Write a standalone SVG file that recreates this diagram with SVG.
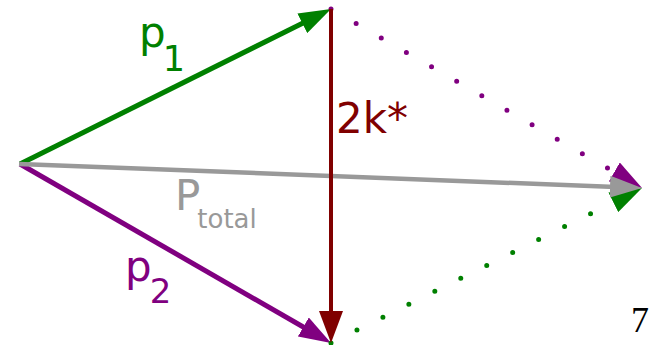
<svg xmlns="http://www.w3.org/2000/svg" width="650" height="345" viewBox="0 0 650 345">
  <style>
    .lbl { font-family: "DejaVu Sans", "Liberation Sans", sans-serif; }
    .green { stroke: #008000; fill: none; }
    .purple { stroke: #800080; fill: none; }
    .gray { stroke: #999999; fill: none; }
    .red { stroke: #800000; fill: none; }
    .dots { stroke-width: 5; stroke-linecap: round; stroke-dasharray: 0 29; }
  </style>
  <defs>
    <marker id="ahGreen" markerUnits="userSpaceOnUse" markerWidth="32" markerHeight="22" viewBox="0 0 32 22" refX="12" refY="11" orient="auto">
      <path d="M0,0 L32,11 L0,22 z" fill="#008000"/>
    </marker>
    <marker id="ahPurple" markerUnits="userSpaceOnUse" markerWidth="32" markerHeight="22" viewBox="0 0 32 22" refX="12" refY="11" orient="auto">
      <path d="M0,0 L32,11 L0,22 z" fill="#800080"/>
    </marker>
    <marker id="ahGray" markerUnits="userSpaceOnUse" markerWidth="32" markerHeight="22" viewBox="0 0 32 22" refX="12" refY="11" orient="auto">
      <path d="M0,0 L32,11 L0,22 z" fill="#999999"/>
    </marker>
    <marker id="ahRed" markerUnits="userSpaceOnUse" markerWidth="32" markerHeight="24" viewBox="0 0 32 24" refX="12" refY="12" orient="auto">
      <path d="M0,0 L32,12 L0,24 z" fill="#800000"/>
    </marker>
  </defs>
  <rect width="650" height="345" fill="#ffffff"/>
  <g id="connectors">
    <line id="p1" class="green" stroke-width="5" x1="20" y1="164" x2="313.1" y2="17.9" marker-end="url(#ahGreen)"/>
    <line id="p2" class="purple" stroke-width="5" x1="20" y1="164" x2="313.7" y2="333" marker-end="url(#ahPurple)"/>
    <line id="p2-shift" class="purple dots" x1="331" y1="9" x2="624.7" y2="178" marker-end="url(#ahPurple)"/>
    <line id="p1-shift" class="green dots" x1="331" y1="343" x2="624.1" y2="196.9" marker-end="url(#ahGreen)"/>
    <line id="ptotal" class="gray" stroke-width="4.5" x1="19" y1="164" x2="622" y2="187.2" marker-end="url(#ahGray)"/>
    <line id="k2" class="red" stroke-width="4" x1="331" y1="9" x2="331" y2="323" marker-end="url(#ahRed)"/>
  </g>
  <g id="label-p1" class="lbl" fill="#008000">
    <text x="139" y="47" font-size="42">p<tspan font-size="35" dx="-3" dy="24">1</tspan></text>
  </g>
  <g id="label-p2" class="lbl" fill="#800080">
    <text x="125" y="281" font-size="42">p<tspan font-size="34" dx="-2" dy="22">2</tspan></text>
  </g>
  <g id="label-ptotal" class="lbl" fill="#999999">
    <text x="175" y="210" font-size="42">P<tspan font-size="26" dx="-3" dy="18">total</tspan></text>
  </g>
  <g id="label-2k" class="lbl" fill="#800000">
    <text x="336" y="133" font-size="42">2k*</text>
  </g>
  <g id="page-number">
    <text x="631" y="332" font-family="Liberation Serif, serif" font-size="36" fill="#000000">7</text>
  </g>
</svg>
